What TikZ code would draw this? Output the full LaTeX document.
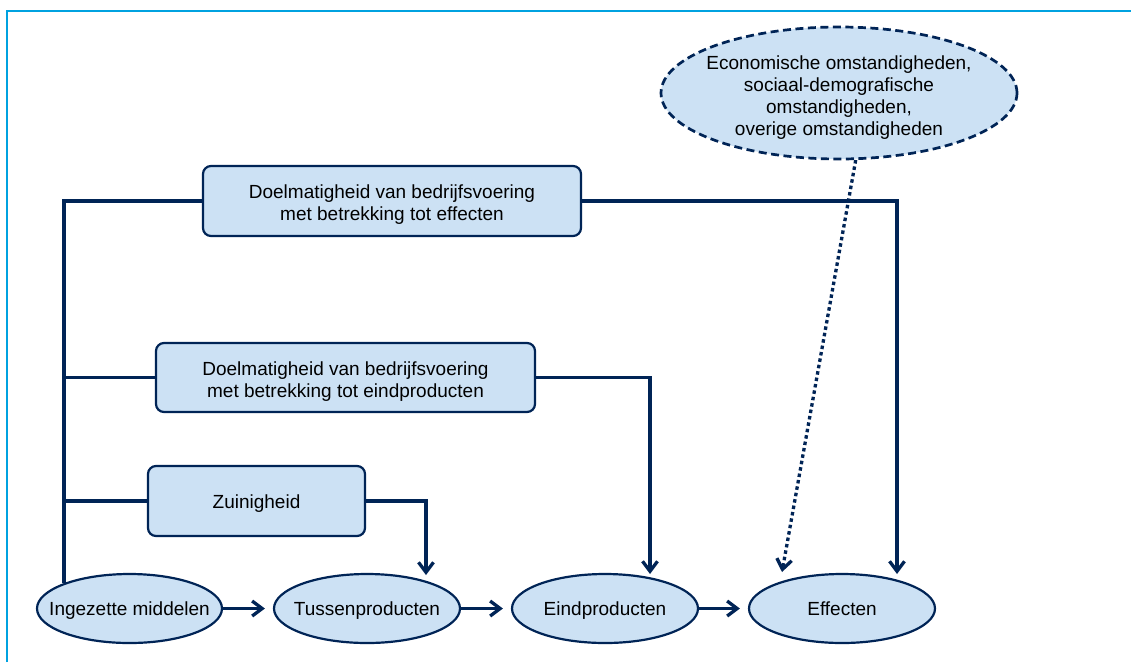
\documentclass[tikz,border=0pt]{standalone}
\usepackage{fontspec}
\setmainfont{Liberation Sans}
\usetikzlibrary{arrows.meta,shapes.geometric,calc}
\definecolor{navy}{HTML}{002456}
\definecolor{fillblue}{HTML}{CCE1F4}
\definecolor{framecol}{HTML}{00A2E0}
\newcommand{\lift}{\rule{0pt}{21pt}}
\begin{document}
\begin{tikzpicture}[x=1pt,y=-1pt,
  font=\fontsize{19}{22}\selectfont,
  box/.style={draw=navy,line width=2.2pt,fill=fillblue,rounded corners=8pt,align=center,inner sep=0pt},
  onebox/.style={draw=navy,line width=2.2pt,fill=fillblue,rounded corners=8pt,inner sep=0pt,text height=17pt,text depth=2pt},
  ell/.style={ellipse,draw=navy,line width=2.2pt,fill=fillblue,inner xsep=-20pt,inner ysep=0pt,minimum width=186pt,minimum height=69pt,text height=17pt,text depth=3pt},
  cloud/.style={ellipse,draw=navy,line width=2.7pt,dash pattern=on 8pt off 4.5pt,fill=fillblue,align=center,inner xsep=-8pt,inner ysep=0pt,minimum width=356pt,minimum height=132pt},
  conn/.style={draw=navy,line width=3.3pt},
  arr/.style={conn,-{Straight Barb[length=10pt,width=15pt,line width=3.3pt]}},
  dots/.style={arr,dash pattern=on 3.5pt off 3pt}
]
\useasboundingbox (0,0) rectangle (1131,662);
\fill[white] (0,0) rectangle (1131,662);
\draw[framecol,line width=2pt] (7,662) -- (7,11) -- (1131,11);

% nodes
\node[cloud] (omst) at (839,93) {\rule{0pt}{22pt}Economische omstandigheden,\\sociaal-demografische\\omstandigheden,\\overige omstandigheden};
\node[box,minimum width=378pt,minimum height=70pt] (b1) at (392,201) {\lift Doelmatigheid van bedrijfsvoering\\met betrekking tot effecten};
\node[box,minimum width=379pt,minimum height=69pt] (b2) at (345.5,377.5) {\lift Doelmatigheid van bedrijfsvoering\\met betrekking tot eindproducten};
\node[onebox,minimum width=217pt,minimum height=70pt] (b3) at (256.5,501) {Zuinigheid};
\node[ell,minimum width=185pt] (e1) at (129.5,608.5) {Ingezette middelen};
\node[ell] (e2) at (367,608.5) {Tussenproducten};
\node[ell] (e3) at (605,608.5) {Eindproducten};
\node[ell] (e4) at (842,608.5) {Effecten};

% junctions and arrow ends
\coordinate (jt) at (64,201);
\coordinate (jb) at (64,583);
\coordinate (t2) at (426,575);
\coordinate (t3) at (650,574);
\coordinate (t4) at (897,574);
\coordinate (t5) at (782,572);

% connectors
\draw[conn] (b1.west) -- (jt) -- (jb);
\draw[conn] (b2.west) -- (b2.west -| jt);
\draw[conn] (b3.west) -- (b3.west -| jt);
\draw[arr] (b3.east) -| (t2);
\draw[arr] (b2.east) -| (t3);
\draw[arr] (b1.east) -| (t4);
\draw[arr,shorten >=8pt] (e1) -- (e2);
\draw[arr,shorten >=8pt] (e2) -- (e3);
\draw[arr,shorten >=8pt] (e3) -- (e4);
\draw[dots] (omst.-76) -- (t5);
\end{tikzpicture}
\end{document}
